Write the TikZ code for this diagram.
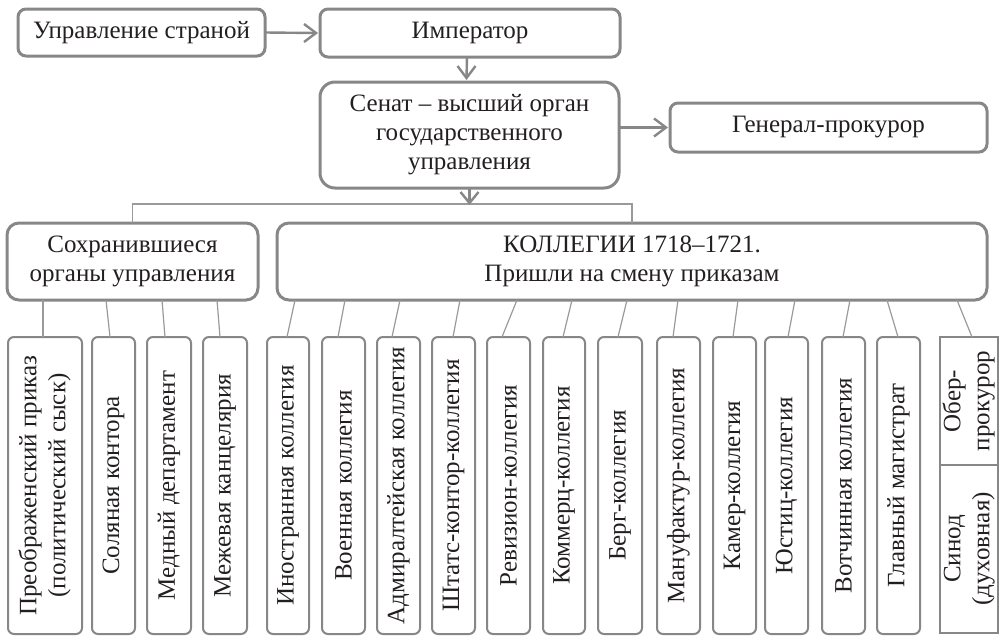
\documentclass[tikz,border=0pt]{standalone}
\usepackage{fontspec}
\setmainfont{Liberation Serif}
\definecolor{bc}{HTML}{878787}
\definecolor{lc}{HTML}{9A9A9A}
\definecolor{tc}{HTML}{231F20}
\begin{document}
\begin{tikzpicture}[x=1pt,y=-1pt, font=\fontsize{25}{29}\selectfont, text=tc,
 box/.style={draw=bc, line width=3pt, rounded corners=#1, inner sep=0pt, outer sep=0pt, align=center},
 box/.default=8pt,
 colbox/.style={draw=bc, line width=2pt, rounded corners=6pt, inner sep=0pt, outer sep=0pt},
 sqbox/.style={draw=bc, line width=2pt, inner sep=0pt, outer sep=0pt},
 arr/.style={draw=bc, line width=2.4pt},
 vhead/.style={draw=bc, line width=2.4pt, line join=miter, line cap=butt},
 conn/.style={draw=lc, line width=1.2pt}]
\useasboundingbox (0,0) rectangle (999,637);
% top boxes
\node[box, minimum width=247pt, minimum height=47pt] (upr) at (141.5,32.5) {Управление страной};
\node[box, minimum width=300pt, minimum height=48pt] (imp) at (470,33) {Император};
\node[box=15pt, minimum width=299pt, minimum height=106pt] (sen) at (469.5,135) {Сенат – высший орган\\государственного\\управления};
\node[box, minimum width=317pt, minimum height=49pt] (gen) at (828.5,127.5) {Генерал-прокурор};
\node[box=12pt, minimum width=251pt, minimum height=77pt] (sokh) at (132.5,261.5) {Сохранившиеся\\органы управления};
\node[box=12pt, minimum width=710pt, minimum height=77pt] (koll) at (632,261.5) {КОЛЛЕГИИ 1718–1721.\\Пришли на смену приказам};
% arrows
\coordinate (t1) at ([xshift=-4pt]imp.west);
\draw[arr] (upr.east) -- (t1);
\draw[vhead] ([xshift=-12pt,yshift=9pt]t1) -- (t1) -- ([xshift=-12pt,yshift=-9pt]t1);
\coordinate (t2) at ([xshift=-3pt,yshift=4pt]sen.north);
\draw[arr] ([xshift=-3pt]imp.south) -- (t2);
\draw[vhead] ([xshift=-9pt,yshift=12pt]t2) -- (t2) -- ([xshift=9pt,yshift=12pt]t2);
\coordinate (t3) at ([xshift=-4pt]gen.west);
\draw[arr] (sen.east |- gen.west) -- (t3);
\draw[vhead] ([xshift=-12pt,yshift=9pt]t3) -- (t3) -- ([xshift=-12pt,yshift=-9pt]t3);
\coordinate (bus) at (469.5,204);
\draw[conn] (sokh.north) |- (bus) -| (koll.north);
\draw[arr] (sen.south) -- ([yshift=1pt]bus);
\draw[vhead] ([xshift=-9pt,yshift=12pt]bus) -- ([yshift=1pt]bus) -- ([xshift=9pt,yshift=12pt]bus);
% columns
\foreach \n/\l/\r/\s/\e/\p/\pl/\t in {
 1/8/82/43/43/sokh/7/{\begin{tabular}{@{}c@{}}Преображенский приказ\\(политический сыск)\end{tabular}},
 2/92/135/106/110/sokh/7/{Соляная контора},
 3/147/191/162/165/sokh/7/{Медный департамент},
 4/203/247/217/220/sokh/7/{Межевая канцелярия},
 5/267/309/295/287/koll/277/{Иностранная коллегия},
 6/322/365/345/338/koll/277/{Военная коллегия},
 7/377/420/400/392/koll/277/{Адмиралтейская коллегия},
 8/432/475/460/453/koll/277/{Штатс-контор-коллегия},
 9/487/530/517/502/koll/277/{Ревизион-коллегия},
 10/543/585/572/563/koll/277/{Коммерц-коллегия},
 11/598/642/627/618/koll/277/{Берг-коллегия},
 12/657/700/678/673/koll/277/{Мануфактур-коллегия},
 13/713/756/738/733/koll/277/{Камер-коллегия},
 14/765/808/795/788/koll/277/{Юстиц-коллегия},
 15/822/865/850/843/koll/277/{Вотчинная коллегия},
 16/877/920/887/898/koll/277/{Главный магистрат}}
{
 \pgfmathsetmacro\w{\r-\l}
 \pgfmathsetmacro\cx{(\l+\r)/2}
 \pgfmathsetmacro\ds{\s-\pl}
 \pgfmathsetmacro\de{\e-\l}
 \node[colbox, minimum width=\w pt, minimum height=297pt] (c\n) at (\cx,485.5) {\rotatebox{90}{\t}};
 \draw[conn] ([xshift=\ds pt]\p.south west) -- ([xshift=\de pt]c\n.north west);
}
% ober-prokuror and synod
\node[sqbox, minimum width=58pt, minimum height=128pt] (ober) at (969,401) {\rotatebox{90}{\begin{tabular}{@{}c@{}}Обер-\\прокурор\end{tabular}}};
\node[sqbox, minimum width=58pt, minimum height=168pt] (sinod) at (969,549) {\rotatebox{90}{\begin{tabular}{@{}c@{}}Синод\\(духовная)\end{tabular}}};
\draw[conn] ([xshift=680pt]koll.south west) -- ([xshift=32pt]ober.north west);
\end{tikzpicture}
\end{document}
